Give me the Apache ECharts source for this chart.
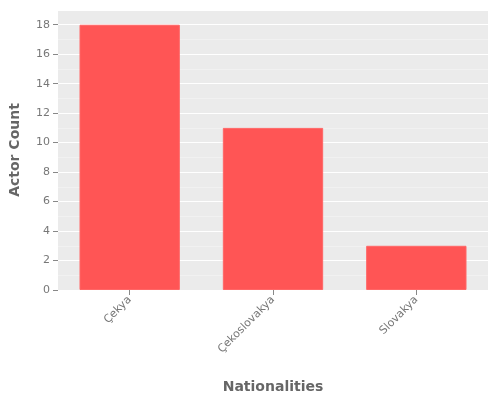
<!DOCTYPE html>
<html><head><meta charset="utf-8">
<script src="https://cdn.jsdelivr.net/npm/echarts@6/dist/echarts.min.js"></script>
<style>html,body{margin:0;padding:0;background:#fff}#c{width:500px;height:400px}</style>
</head><body><div id="c"></div>
<script>
const categories = ['Çekya', 'Çekoslovakya', 'Slovakya'];
const actorCounts = [18, 11, 3];
const yTicks = [0, 2, 4, 6, 8, 10, 12, 14, 16, 18];
const chart = echarts.init(document.getElementById('c'));
chart.setOption({
  animation: false,
  textStyle: {fontFamily: 'DejaVu Sans'},
  grid: {left: 58, right: 12, top: 10, bottom: 110, backgroundColor: '#EBEBEB', show: true, borderWidth: 0},
  xAxis: {
    type: 'category', data: categories,
    name: 'Nationalities', nameLocation: 'middle', nameGap: 90,
    nameTextStyle: {color: '#666', fontSize: 14, fontWeight: 'bold'},
    axisLine: {show: false},
    axisTick: {show: true, alignWithLabel: true, lineStyle: {color: '#888'}},
    axisLabel: {rotate: 45, color: '#777', fontSize: 11, margin: 8},
    splitLine: {show: false}
  },
  yAxis: {
    type: 'value', min: 0, max: 19, interval: 2,
    name: 'Actor Count', nameLocation: 'middle', nameGap: 36,
    nameTextStyle: {color: '#666', fontSize: 14, fontWeight: 'bold'},
    axisLine: {show: false},
    axisTick: {show: true, lineStyle: {color: '#888'}},
    axisLabel: {color: '#777', fontSize: 11, showMaxLabel: false,
      formatter: v => yTicks.includes(v) ? String(v) : ''},
    splitLine: {show: true, lineStyle: {color: '#fff', width: 1}},
    minorTick: {show: false, splitNumber: 2},
    minorSplitLine: {show: true, lineStyle: {color: '#f5f5f5', width: 0.6}}
  },
  series: [{
    type: 'bar', data: actorCounts, barWidth: '70%',
    itemStyle: {color: '#FF5555', borderColor: '#FF6666', borderWidth: 1}
  }]
});
</script></body></html>
